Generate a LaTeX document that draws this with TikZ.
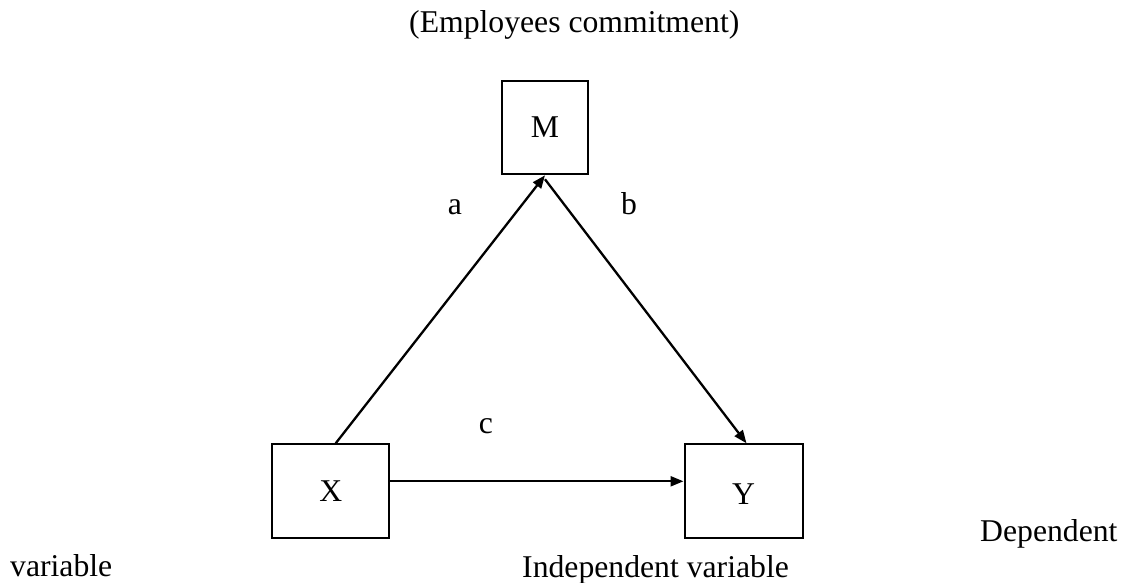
\documentclass[tikz,border=0pt]{standalone}
\usepackage{fontspec}
\setmainfont{Liberation Serif}
\usetikzlibrary{arrows.meta}
\begin{document}
\begin{tikzpicture}[x=1pt,y=-1pt,
  every node/.style={font=\fontsize{31.7pt}{38pt}\selectfont},
  varbox/.style={draw, line width=2pt, inner sep=0pt},
  lbl/.style={inner sep=0pt},
  conn/.style={line width=2.3pt, -{Triangle[length=13pt,width=10pt]}}]
\useasboundingbox (0,0) rectangle (1130,583);
\node[varbox, minimum width=86pt, minimum height=93.6pt] (M) at (545,127.5) {M};
\node[varbox, minimum width=117.3pt, minimum height=94pt] (X) at (330.7,491.3) {X};
\node[varbox, minimum width=118pt, minimum height=94pt, text height=27pt] (Y) at (743.5,491.3) {Y};
\draw[conn] ([xshift=5pt]X.north) -- (M.south);
\draw[conn] ([yshift=-4pt]M.south) -- ([xshift=3pt]Y.north);
\draw[conn] ([yshift=10pt]X.east) -- ([yshift=10pt]Y.west);
\node[lbl, anchor=base] (la) at (455,214) {a};
\node[lbl, anchor=base] (lb) at (629,214) {b};
\node[lbl, anchor=base] (lc) at (486,433) {c};
\node[lbl, anchor=base west] (top) at (409,33) {(Employees commitment)};
\node[lbl, anchor=base west] (dep) at (980,541.7) {Dependent};
\node[lbl, anchor=base west] (var) at (10,576.7) {variable};
\node[lbl, anchor=base west] (ind) at (522,577) {Independent variable};
\end{tikzpicture}
\end{document}
